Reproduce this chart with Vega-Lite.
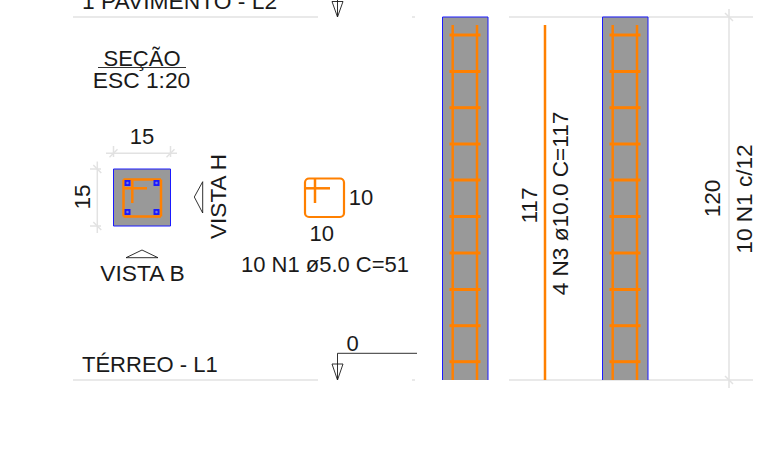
{"$schema":"https://vega.github.io/schema/vega-lite/v6.json","width":764,"height":473,"padding":0,"autosize":{"type":"none"},"background":"white","config":{"view":{"stroke":null},"text":{"font":"Liberation Sans"}},
"datasets":{
"fills":[{"x":442.5,"x2":488,"y":17,"y2":380},{"x":602.5,"x2":648,"y":17,"y2":380}],
"section":[{"x":113.5,"x2":170.5,"y":169,"y2":226}],
"stirrupShape":[{"x":305,"x2":344,"y":178.5,"y2":217}],
"grey":[
{"x":73,"y":17,"x2":318,"y2":17},{"x":73,"y":380,"x2":318,"y2":380},{"x":509,"y":17,"x2":753,"y2":17},{"x":509,"y":380,"x2":753,"y2":380},{"x":412,"y":17,"x2":415,"y2":17},{"x":412,"y":380,"x2":415,"y2":380},
{"x":729,"y":9,"x2":729,"y2":388},{"x":725,"y":13,"x2":733,"y2":21},{"x":725,"y":376,"x2":733,"y2":384},
{"x":106,"y":153.3,"x2":177,"y2":153.3},{"x":113.5,"y":146,"x2":113.5,"y2":157},{"x":170.5,"y":146,"x2":170.5,"y2":157},{"x":109.5,"y":157.3,"x2":117.5,"y2":149.3},{"x":166.5,"y":157.3,"x2":174.5,"y2":149.3},
{"x":97.3,"y":161.5,"x2":97.3,"y2":233},{"x":90,"y":169,"x2":101,"y2":169},{"x":90,"y":226,"x2":101,"y2":226},{"x":93.3,"y":165,"x2":101.3,"y2":173},{"x":93.3,"y":222,"x2":101.3,"y2":230}],
"blue":[
{"x":442.5,"y":17,"x2":442.5,"y2":380},{"x":488,"y":17,"x2":488,"y2":380},{"x":442.5,"y":17,"x2":488,"y2":17},
{"x":602.5,"y":17,"x2":602.5,"y2":380},{"x":648,"y":17,"x2":648,"y2":380},{"x":602.5,"y":17,"x2":648,"y2":17}],
"bars":[
{"x":452.7,"y":25,"x2":452.7,"y2":380},{"x":477,"y":25,"x2":477,"y2":380},{"x":612.7,"y":25,"x2":612.7,"y2":380},{"x":637,"y":25,"x2":637,"y2":380},{"x":545,"y":25,"x2":545,"y2":380},
{"x":123.5,"y":179.5,"x2":161,"y2":179.5},{"x":123.5,"y":216.5,"x2":161,"y2":216.5},{"x":123.5,"y":179.5,"x2":123.5,"y2":216.5},{"x":161,"y":179.5,"x2":161,"y2":216.5},{"x":123.5,"y":188.3,"x2":147,"y2":188.3},{"x":132.3,"y":179.5,"x2":132.3,"y2":203},
{"x":305,"y":188.3,"x2":330,"y2":188.3},{"x":315,"y":178.5,"x2":315,"y2":203}],
"ties":[
{"x":449.5,"x2":480.5,"y":35,"y2":35},{"x":449.5,"x2":480.5,"y":71.5,"y2":71.5},{"x":449.5,"x2":480.5,"y":107.7,"y2":107.7},{"x":449.5,"x2":480.5,"y":144,"y2":144},{"x":449.5,"x2":480.5,"y":180,"y2":180},{"x":449.5,"x2":480.5,"y":216.5,"y2":216.5},{"x":449.5,"x2":480.5,"y":253,"y2":253},{"x":449.5,"x2":480.5,"y":289.5,"y2":289.5},{"x":449.5,"x2":480.5,"y":325.7,"y2":325.7},{"x":449.5,"x2":480.5,"y":361.7,"y2":361.7},
{"x":609.5,"x2":640.5,"y":35,"y2":35},{"x":609.5,"x2":640.5,"y":71.5,"y2":71.5},{"x":609.5,"x2":640.5,"y":107.7,"y2":107.7},{"x":609.5,"x2":640.5,"y":144,"y2":144},{"x":609.5,"x2":640.5,"y":180,"y2":180},{"x":609.5,"x2":640.5,"y":216.5,"y2":216.5},{"x":609.5,"x2":640.5,"y":253,"y2":253},{"x":609.5,"x2":640.5,"y":289.5,"y2":289.5},{"x":609.5,"x2":640.5,"y":325.7,"y2":325.7},{"x":609.5,"x2":640.5,"y":361.7,"y2":361.7}],
"corners":[{"x":127.5,"y":183},{"x":156.5,"y":183},{"x":127.5,"y":212},{"x":156.5,"y":212}],
"black":[
{"x":98,"y":67.5,"x2":186,"y2":67.5},
{"x":337.5,"y":353.3,"x2":417,"y2":353.3},{"x":337.5,"y":353.3,"x2":337.5,"y2":380},{"x":332,"y":364,"x2":343,"y2":364},{"x":332,"y":364,"x2":337.5,"y2":380},{"x":343,"y":364,"x2":337.5,"y2":380},
{"x":337.5,"y":0,"x2":337.5,"y2":17},{"x":332,"y":1.5,"x2":343,"y2":1.5},{"x":332,"y":1.5,"x2":337.5,"y2":17},{"x":343,"y":1.5,"x2":337.5,"y2":17},
{"x":126,"y":257.7,"x2":158,"y2":257.7},{"x":126,"y":257.7,"x2":142,"y2":250},{"x":158,"y":257.7,"x2":142,"y2":250},
{"x":202.7,"y":181.7,"x2":202.7,"y2":213},{"x":202.7,"y":181.7,"x2":194.3,"y2":197},{"x":202.7,"y":213,"x2":194.3,"y2":197}],
"labelsLeftWide":[{"x":82,"y":9,"label":"1 PAVIMENTO - L2"}],
"labelsLeft":[{"x":82,"y":372,"label":"TÉRREO - L1"}],
"labelsCenterWide":[{"x":141.5,"y":88.3,"label":"ESC 1:20"},{"x":142.5,"y":281,"label":"VISTA B"}],
"labelsCenter":[{"x":142,"y":65.5,"label":"SEÇÃO"},{"x":142,"y":144,"label":"15"},{"x":361,"y":205,"label":"10"},{"x":321.7,"y":240.7,"label":"10"},{"x":325,"y":271.7,"label":"10 N1 ø5.0 C=51"},{"x":352.7,"y":350.7,"label":"0"}],
"labelsRotated":[{"x":89.5,"y":197,"label":"15"},{"x":226,"y":196.5,"label":"VISTA H"},{"x":536.7,"y":205.5,"label":"117"},{"x":568,"y":203.5,"label":"4 N3 ø10.0 C=117"},{"x":720,"y":198.5,"label":"120"},{"x":752,"y":199,"label":"10 N1 c/12"}]
},
"encoding":{
"x":{"field":"x","type":"quantitative","scale":{"domain":[0,764],"nice":false,"zero":false},"axis":null},
"y":{"field":"y","type":"quantitative","scale":{"domain":[473,0],"nice":false,"zero":false},"axis":null}},
"layer":[
{"data":{"name":"grey"},"mark":{"type":"rule","color":"#e2e2e2","strokeWidth":1.5},"encoding":{"x2":{"field":"x2"},"y2":{"field":"y2"}}},
{"data":{"name":"fills"},"mark":{"type":"rect","color":"#999999"},"encoding":{"x2":{"field":"x2"},"y2":{"field":"y2"}}},
{"data":{"name":"section"},"mark":{"type":"rect","fill":"#999999","stroke":"#1a1aff","strokeWidth":1},"encoding":{"x2":{"field":"x2"},"y2":{"field":"y2"}}},
{"data":{"name":"blue"},"mark":{"type":"rule","color":"#1a1aff","strokeWidth":1},"encoding":{"x2":{"field":"x2"},"y2":{"field":"y2"}}},
{"data":{"name":"stirrupShape"},"mark":{"type":"rect","fillOpacity":0,"stroke":"#ff8000","strokeWidth":2.2,"cornerRadius":4},"encoding":{"x2":{"field":"x2"},"y2":{"field":"y2"}}},
{"data":{"name":"bars"},"mark":{"type":"rule","color":"#ff8000","strokeWidth":2.5},"encoding":{"x2":{"field":"x2"},"y2":{"field":"y2"}}},
{"data":{"name":"ties"},"mark":{"type":"rule","color":"#ff8000","strokeWidth":3},"encoding":{"x2":{"field":"x2"},"y2":{"field":"y2"}}},
{"data":{"name":"corners"},"mark":{"type":"point","shape":"square","filled":true,"color":"#1a1aff","size":36,"opacity":1}},
{"data":{"name":"corners"},"mark":{"type":"point","shape":"circle","filled":true,"color":"#7a7ae0","size":6,"opacity":1}},
{"data":{"name":"black"},"mark":{"type":"rule","color":"#1a1a1a","strokeWidth":0.9},"encoding":{"x2":{"field":"x2"},"y2":{"field":"y2"}}},
{"data":{"name":"labelsLeftWide"},"mark":{"type":"text","align":"left","baseline":"alphabetic","fontSize":22.8,"font":"Liberation Sans","color":"#1a1a1a"},"encoding":{"text":{"field":"label"}}},
{"data":{"name":"labelsLeft"},"mark":{"type":"text","align":"left","baseline":"alphabetic","fontSize":22,"font":"Liberation Sans","color":"#1a1a1a"},"encoding":{"text":{"field":"label"}}},
{"data":{"name":"labelsCenterWide"},"mark":{"type":"text","align":"center","baseline":"alphabetic","fontSize":22.8,"font":"Liberation Sans","color":"#1a1a1a"},"encoding":{"text":{"field":"label"}}},
{"data":{"name":"labelsCenter"},"mark":{"type":"text","align":"center","baseline":"alphabetic","fontSize":22,"font":"Liberation Sans","color":"#1a1a1a"},"encoding":{"text":{"field":"label"}}},
{"data":{"name":"labelsRotated"},"mark":{"type":"text","align":"center","baseline":"alphabetic","angle":270,"fontSize":22.6,"font":"Liberation Sans","color":"#1a1a1a"},"encoding":{"text":{"field":"label"}}}
]}
